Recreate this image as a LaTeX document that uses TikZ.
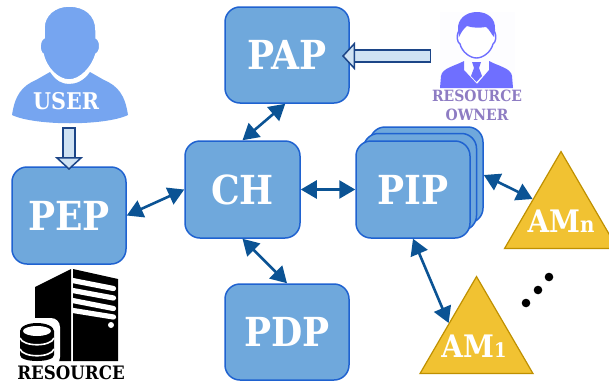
\documentclass[tikz,border=0pt]{standalone}
\usepackage{fontspec}
\setmainfont{DejaVu Serif Condensed}
\usetikzlibrary{arrows.meta,shapes.geometric}
\definecolor{boxfill}{HTML}{6FA8DC}
\definecolor{boxline}{HTML}{1F62D0}
\definecolor{arrowblue}{HTML}{0B5394}
\definecolor{blockfill}{HTML}{CFE2F3}
\definecolor{blockline}{HTML}{1C4587}
\definecolor{trifill}{HTML}{F1C232}
\definecolor{triline}{HTML}{BF9000}
\definecolor{userblue}{HTML}{76A5F0}
\definecolor{ownerblue}{HTML}{6F6FFF}
\definecolor{ownertext}{HTML}{8E7CC3}
\definecolor{iconback}{HTML}{FDFDFF}
\tikzset{
  boxnode/.style={draw=boxline,fill=boxfill,line width=1.5pt,rounded corners=15pt,inner sep=0pt,
    text=white,font=\fontsize{40}{40}\selectfont\bfseries},
  trinode/.style={draw=triline,fill=trifill,line width=1.2pt,shape=isosceles triangle,
    shape border rotate=90,isosceles triangle stretches,inner sep=0pt,anchor=apex,
    minimum width=113pt,minimum height=97pt},
  trilabel/.style={text=white,inner sep=0pt,anchor=base,font=\fontsize{31}{31}\selectfont\bfseries},
  link/.style={draw=arrowblue,line width=2.6pt,
    {Triangle[length=16pt,width=18pt]}-{Triangle[length=16pt,width=18pt]}},
  blockarrow/.style={double=blockfill,double distance=10.5pt,line width=1.5pt,draw=blockline,
    {Bar[width=13.5pt,line width=1.5pt,color=blockline]}-{Triangle[length=13pt,width=28pt,fill=blockfill,color=blockline,line width=1.5pt]}},
  icontext/.style={inner sep=0pt,anchor=base,font=\bfseries}
}
\begin{document}
\begin{tikzpicture}[x=1pt,y=-1pt]
\clip (0,0) rectangle (609,383);
\fill[white] (0,0) rectangle (609,383);
% user icon
\node[minimum width=116pt,minimum height=116pt,inner sep=0pt] (user) at (70,65) {};
\fill[userblue] (12,115) .. controls (15,95) and (22,86) .. (36,80) -- (50,72)
  .. controls (56,81) and (62,84) .. (69,84) .. controls (76,84) and (84,81) .. (90,72)
  -- (104,80) .. controls (118,86) and (125,95) .. (128,115)
  .. controls (105,126) and (35,126) .. (12,115) -- cycle;
\filldraw[userblue,draw=white,line width=1.5pt] (69,6) .. controls (85,6) and (96,15) .. (96,30) -- (96,38)
  .. controls (101,40) and (101,52) .. (96,54) .. controls (92,68) and (80,80) .. (69,80)
  .. controls (58,80) and (46,68) .. (43,54) .. controls (39,52) and (39,40) .. (44,38) -- (44,28)
  .. controls (44,15) and (55,6) .. (69,6) -- cycle;
\node[icontext,text=white,font=\fontsize{23}{23}\selectfont\bfseries] (usertext) at (66,109) {USER};
% owner icon
\fill[iconback] (440,12) rectangle (515,88);
\fill[ownerblue] (440,88) -- (441,76) .. controls (442,68) and (455,66) .. (464,61) -- (464,70)
  -- (477,84) -- (489,70) -- (489,61) .. controls (498,66) and (511,68) .. (512,76) -- (513,88) -- cycle;
\fill[ownerblue] (472,62) -- (481,62) -- (479,68) -- (482,76) -- (476.5,82) -- (471,76) -- (474,68) -- cycle;
\filldraw[white,draw=ownerblue,line width=1.4pt] (462,22) -- (459,30) .. controls (456,36) and (457,42) .. (460,44)
  .. controls (462,52) and (470,58) .. (476.5,58) .. controls (483,58) and (491,52) .. (493,44)
  .. controls (496,42) and (497,36) .. (494,30) -- (491,22) -- cycle;
\fill[ownerblue] (477,12) .. controls (488,12) and (496,19) .. (495,30) -- (494,37)
  .. controls (491,34) and (490,30) .. (486,27) .. controls (480,28) and (472,28) .. (467,26)
  .. controls (463,29) and (461,33) .. (459,37) -- (458,30) .. controls (457,19) and (466,12) .. (477,12) -- cycle;
\node[icontext,text=ownertext,font=\fontsize{15.5}{16}\selectfont\bfseries] (ownertextA) at (477,101) {RESOURCE};
\node[icontext,text=ownertext,font=\fontsize{15.5}{16}\selectfont\bfseries] (ownertextB) at (477,120.5) {OWNER};
\node[minimum width=75pt,minimum height=76pt,inner sep=0pt] (owner) at (477,50) {};
% boxes
\node[boxnode,minimum width=124pt,minimum height=96pt] (pap) at (287,55) {PAP};
\node[boxnode,minimum width=115pt,minimum height=97pt] (ch) at (242.5,189.5) {CH};
\node[boxnode,minimum width=114pt,minimum height=97pt] (pep) at (69,215.5) {PEP};
\node[boxnode,minimum width=124pt,minimum height=96pt] (pdp) at (287,332) {PDP};
\node[boxnode,minimum width=113pt,minimum height=96pt] (pipc) at (426.5,175) {};
\node[boxnode,minimum width=113pt,minimum height=97pt] (pipb) at (420,182) {};
\node[boxnode,minimum width=114pt,minimum height=97pt] (pip) at (413,189.5) {PIP};
% triangles
\node[trinode] (amn) at (561,150) {};
\node[trinode] (am1) at (476.5,275) {};
\node[trilabel] (amnt) at (561,232) {AM\fontsize{22}{22}\selectfont n};
\node[trilabel] (am1t) at (474,357) {AM\fontsize{20}{20}\selectfont 1};
% dots
\fill[black] (526,303) circle (4.3);
\fill[black] (538,290) circle (4.3);
\fill[black] (549,277) circle (4.3);
% connectors
\draw[link] (pap.-92) -- (ch.north);
\draw[link] (ch.west) -- (pep.east);
\draw[link] (ch.east) -- (pip.west);
\draw[link] (ch.south) -- (pdp.north);
\draw[link] (pipc.east) -- (amn.149);
\draw[link] (pip.south) -- (am1.147.5);
\coordinate (usertip) at (69,170);
\draw[blockarrow] ([yshift=-4pt]user.south -| usertip) -- (usertip);
\coordinate (ownerout) at (431,56);
\coordinate (ownertip) at (342,56);
\draw[blockarrow] (ownerout) -- (ownertip);
% resource icon
\node[minimum width=84pt,minimum height=92pt,inner sep=0pt] (server) at (76.5,315) {};
\fill[black] (35,287) -- (71,269) -- (71,361) -- (35,361) -- cycle;
\fill[black] (73,269) -- (118,279) -- (118,361) -- (73,361) -- cycle;
\begin{scope}
\clip (73,262) rectangle (120,330);
\foreach \ya/\yb in {280/288.5,290/298,300/308.5,310/317}{
  \draw[white,line width=5.2pt,line cap=round] (70,\ya) -- (113.5,\yb);
}
\end{scope}
\fill[white] (111,325) circle (3);
\fill[white,rounded corners=9pt] (14,318) rectangle (60,366);
\fill[black] (20,331) -- (20,355) .. controls (20,363) and (54,363) .. (54,355) -- (54,331) -- cycle;
\fill[black] (37,331) ellipse (17 and 8);
\fill[white] (37,331) ellipse (14 and 5);
\draw[white,line width=1.6pt] (20,338) .. controls (23,347) and (51,347) .. (54,338);
\draw[white,line width=1.6pt] (20,349) .. controls (23,358) and (51,358) .. (54,349);
\node[icontext,text=black,font=\fontsize{18.5}{19}\selectfont\bfseries] (resource) at (71,379) {RESOURCE};
\end{tikzpicture}
\end{document}
